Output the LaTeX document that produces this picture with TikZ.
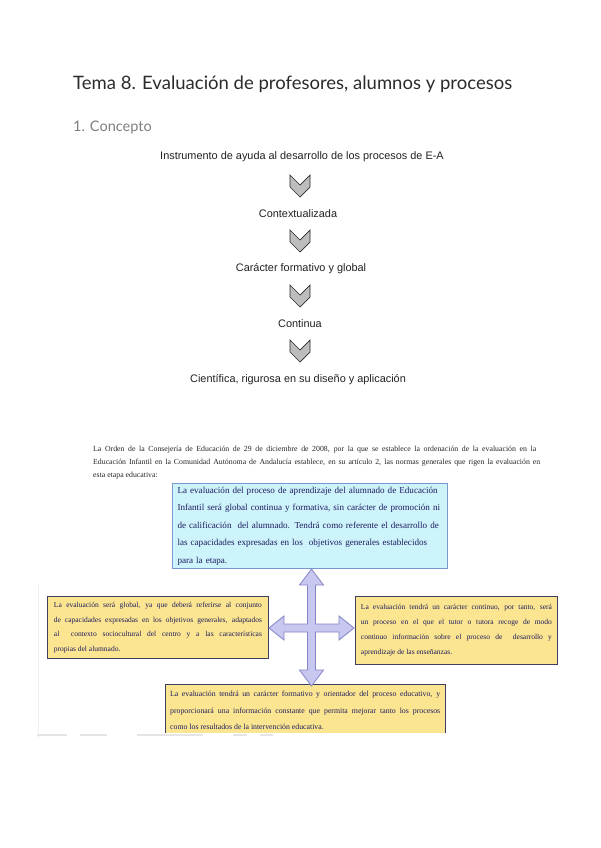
\documentclass[tikz,border=0pt]{standalone}
\usepackage{fontspec}
\setmainfont{Liberation Serif}
\newfontfamily\titlefont{Lato}
\newfontfamily\flowfont{Liberation Sans}
\definecolor{titlecol}{HTML}{2B2B2B}
\definecolor{subcol}{HTML}{7F7F7F}
\definecolor{flowcol}{HTML}{222222}
\definecolor{chevfill}{HTML}{BDBDBD}
\definecolor{chevdraw}{HTML}{2A2A2A}
\definecolor{bluefill}{HTML}{CDF3FB}
\definecolor{bluedraw}{HTML}{7D98CF}
\definecolor{yelfill}{HTML}{FCE590}
\definecolor{yeldraw}{HTML}{3E3E60}
\definecolor{navy}{HTML}{1C1C5E}
\definecolor{crossfill}{HTML}{C7C7F0}
\definecolor{crossdraw}{HTML}{8585C8}
\newcommand{\jl}[2]{\makebox[#1][s]{#2}}
\tikzset{
  flowtext/.style={font=\flowfont\fontsize{10.9}{12}\selectfont, text=flowcol, inner sep=0pt},
  chev/.pic={\draw[fill=chevfill, draw=chevdraw, line width=0.7pt, line join=miter]
     (-10,0) -- (0,10) -- (10,0) -- (10,12) -- (0,22) -- (-10,12) -- cycle;},
  bluebox/.style={draw=bluedraw, fill=bluefill, line width=1pt, anchor=north west, inner xsep=5pt, inner ysep=0pt, align=left, text=navy},
  yelbox/.style={draw=yeldraw, fill=yelfill, line width=0.9pt, anchor=north west, inner ysep=0pt, align=left, text=navy},
}
\begin{document}
\begin{tikzpicture}[x=1pt,y=-1pt]
\useasboundingbox[fill=white] (0,0) rectangle (600,848);

% headings
\node[anchor=west, inner sep=0pt, font=\titlefont\fontsize{18.5}{20}\selectfont, text=titlecol] (title) at (73,84) {Tema 8. Evaluación de profesores, alumnos y procesos};
\node[anchor=west, inner sep=0pt, font=\titlefont\fontsize{14.5}{16}\selectfont, text=subcol] (sub) at (73,127) {1. Concepto};

% flow
\node[flowtext] (f1) at (302,157) {Instrumento de ayuda al desarrollo de los procesos de E-A};
\node[flowtext] (f2) at (298,214) {Contextualizada};
\node[flowtext] (f3) at (301,269) {Carácter formativo y global};
\node[flowtext] (f4) at (300,324) {Continua};
\node[flowtext] (f5) at (298,380) {Científica, rigurosa en su diseño y aplicación};
\pic at (300,175) {chev};
\pic at (300,230) {chev};
\pic at (300,285) {chev};
\pic at (300,340) {chev};

% intro text
\node[anchor=north west, inner sep=0pt, align=left, font=\fontsize{7.8}{13}\selectfont, text=black!85] (intro) at (93,446)
 {\jl{443pt}{La Orden de la Consejería de Educación de 29 de diciembre de 2008, por la que se establece la ordenación de la evaluación en la}\\
  \jl{447pt}{Educación Infantil en la Comunidad Autónoma de Andalucía establece, en su artículo 2, las normas generales que rigen la evaluación en}\\
  esta etapa educativa:};

% blue box
\node[bluebox, text width=265pt, minimum width=275pt, minimum height=85pt, font=\fontsize{9.1}{17.5}\selectfont] (top) at (172,483)
 {La evaluación del proceso de aprendizaje del alumnado de Educación\\
  Infantil será global continua y formativa, sin carácter de promoción ni\\
  de calificación\ \ del alumnado. Tendrá como referente el desarrollo de\\
  las capacidades expresadas en los\ \ objetivos generales establecidos\\
  para la etapa.};

% left box
\node[yelbox, inner xsep=6.5pt, minimum width=221pt, minimum height=62pt, font=\fontsize{7.5}{14.5}\selectfont] (left) at (47,596)
 {\jl{208pt}{La evaluación será global, ya que deberá referirse al conjunto}\\
  \jl{208pt}{de capacidades expresadas en los objetivos generales, adaptados}\\
  \jl{208pt}{al\ \ contexto sociocultural del centro y a las características}\\
  propias del alumnado.};

% right box
\node[yelbox, inner xsep=5.5pt, minimum width=202pt, minimum height=68pt, font=\fontsize{7.5}{15}\selectfont] (right) at (355,596)
 {\jl{191pt}{La evaluación tendrá un carácter continuo, por tanto, será}\\
  \jl{191pt}{un proceso en el que el tutor o tutora recoge de modo}\\
  \jl{191pt}{continuo información sobre el proceso de\ \ desarrollo y}\\
  aprendizaje de las enseñanzas.};

% bottom box (bottom edge cut)
\fill[yelfill] (165,684) rectangle (445,733);
\draw[yeldraw, line width=0.9pt] (165,733) -- (165,684) -- (445,684) -- (445,733);
\node[anchor=north west, inner sep=0pt, align=left, text=navy, font=\fontsize{7.8}{16.5}\selectfont] (bottom) at (170,691)
 {\jl{270pt}{La evaluación tendrá un carácter formativo y orientador del proceso educativo, y}\\
  \jl{270pt}{proporcionará una información constante que permita mejorar tanto los procesos}\\
  como los resultados de la intervención educativa.};

% cross arrow
\draw[fill=crossfill, draw=crossdraw, line width=0.8pt, line join=miter]
  (311.5,569) -- ++(12,16) -- ++(-8,0) -- (315.5,624)
  -- (339,624) -- (339,616) -- (354,628) -- (339,640) -- (339,632)
  -- (315.5,632) -- (315.5,670) -- ++(8,0) -- (311.5,686) -- ++(-12,-16) -- ++(8,0)
  -- (307.5,632) -- (284,632) -- (284,640) -- (269,628) -- (284,616) -- (284,624)
  -- (307.5,624) -- (307.5,585) -- ++(-8,0) -- cycle;

% faint scan artifacts
\draw[black!6, line width=1pt] (38,585) -- (38,738);
\draw[black!10, line width=2pt] (37,735) -- (67,735) (80,735) -- (107,735) (137,735) -- (203,735) (233,735) -- (247,735) (260,735) -- (273,735);
\end{tikzpicture}
\end{document}
